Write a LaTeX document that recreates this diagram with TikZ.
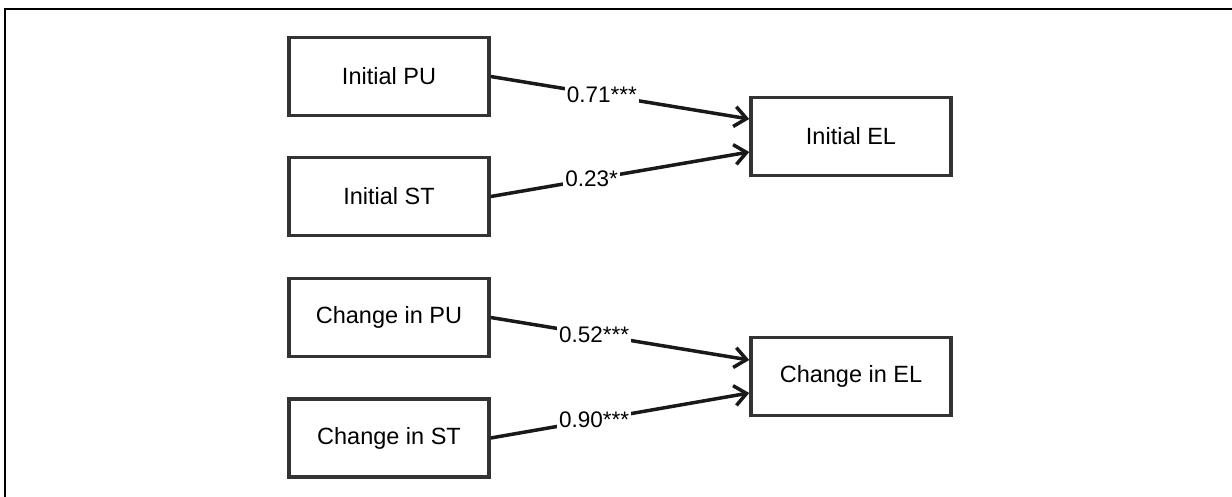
\documentclass[tikz,border=0pt]{standalone}
\usepackage{fontspec}
\setmainfont{Liberation Sans}
\usetikzlibrary{arrows.meta}
\tikzset{
  varbox/.style={draw=black!80, line width=3.5pt, minimum width=200pt, minimum height=78pt,
    inner sep=0pt, font=\fontsize{23.5}{27}\selectfont},
  arr/.style={line width=3.5pt, draw=black!90, -{Straight Barb[length=12pt,width=20pt,line width=3.5pt]}},
  coef/.style={fill=white, inner sep=2pt, font=\fontsize{22.5}{26}\selectfont},
  frameline/.style={line width=2.5pt, draw=black}
}
\begin{document}
\begin{tikzpicture}[x=1pt,y=-1pt]
\useasboundingbox (0,0) rectangle (1232,497);
\coordinate (fbl) at (5,497);
\coordinate (ftl) at (5,9);
\coordinate (ftr) at (1232,9);
\draw[frameline] (fbl) -- (ftl) -- (ftr);

\node[varbox] (ipu) at (389,76.5) {Initial PU};
\node[varbox] (ist) at (389,196.5) {Initial ST};
\node[varbox] (cpu) at (389,317.5) {Change in PU};
\node[varbox] (cst) at (389,438) {Change in ST};
\node[varbox] (iel) at (851,136.5) {Initial EL};
\node[varbox] (cel) at (851,376.5) {Change in EL};

\draw[arr] (ipu.east) -- node[coef, pos=0.43] {0.71***} ([yshift=17.5pt]iel.west);
\draw[arr] (ist.east) -- node[coef, pos=0.39] {0.23*} ([yshift=-15.5pt]iel.west);
\draw[arr] (cpu.east) -- node[coef, pos=0.40] {0.52***} ([yshift=16.5pt]cel.west);
\draw[arr] (cst.east) -- node[coef, pos=0.40] {0.90***} ([yshift=-16.5pt]cel.west);
\end{tikzpicture}
\end{document}
